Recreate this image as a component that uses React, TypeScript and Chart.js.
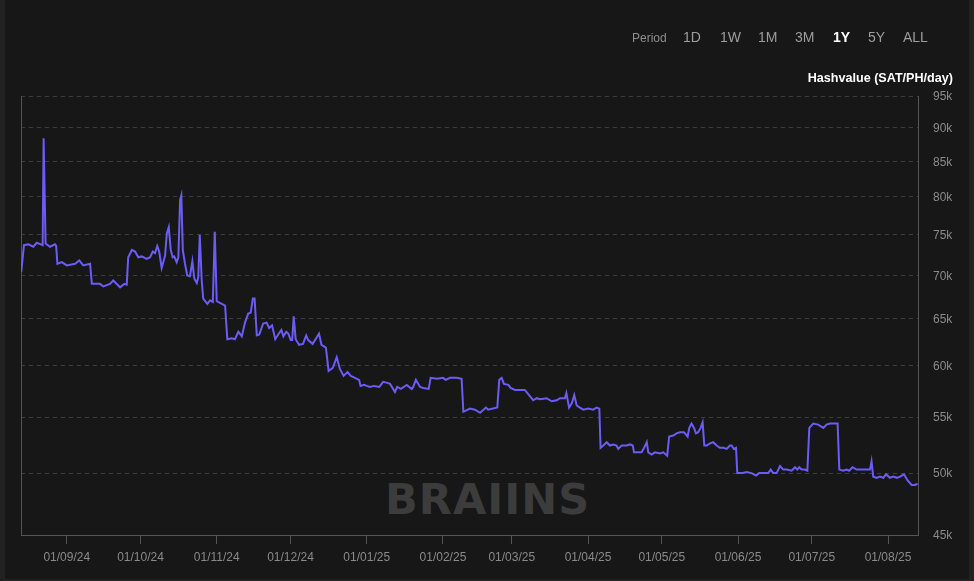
import React, { useEffect, useRef } from "react";
import { Chart, registerables } from "chart.js";

Chart.register(...registerables);

// Visible one-year window
const rangeStart = "2024-08-13T09:36:00Z";
const rangeEnd = "2025-08-13T04:48:00Z";

// Days since rangeStart
const dayOffsets = [
  0.1, 1.2, 3.0, 5.0, 6.4, 8.1, 8.8, 9.2, 10.0, 11.8,
  13.8, 14.3, 14.8, 16.6, 18.6, 22.0, 23.7, 25.3, 28.1, 28.8,
  32.1, 33.5, 36.2, 37.5, 40.3, 42.0, 43.0, 43.6, 45.1, 46.4,
  47.7, 49.1, 51.1, 52.5, 53.6, 54.5, 55.4, 56.2, 57.2, 58.6,
  59.3, 60.1, 60.9, 61.7, 62.3, 63.3, 64.0, 64.7, 65.2, 65.8,
  66.7, 67.6, 68.7, 69.7, 70.5, 71.5, 72.1, 72.7, 73.5, 74.1,
  75.8, 76.9, 78.0, 78.8, 79.6, 80.9, 83.0, 83.9, 85.7, 87.0,
  88.4, 89.8, 91.1, 92.4, 93.4, 94.3, 95.0, 95.9, 96.9, 98.5,
  99.9, 100.9, 102.1, 103.4, 104.6, 105.9, 106.7, 107.9, 108.7, 109.7,
  110.3, 110.9, 111.7, 113.1, 114.7, 116.0, 116.8, 118.6, 120.3, 121.2,
  122.2, 124.0, 125.1, 126.8, 128.4, 129.7, 131.2, 132.8, 134.1, 135.8,
  137.5, 138.1, 139.5, 140.6, 141.9, 143.6, 145.7, 147.3, 149.0, 150.1,
  152.1, 153.0, 154.5, 156.9, 158.9, 159.5, 160.6, 162.3, 163.6, 165.8,
  166.6, 169.1, 171.7, 172.7, 174.5, 177.2, 179.2, 179.9, 182.6, 184.6,
  186.7, 189.1, 190.0, 193.7, 194.5, 195.5, 196.4, 198.2, 199.1, 200.9,
  204.9, 208.3, 209.7, 211.1, 213.8, 215.8, 217.9, 219.2, 221.2, 221.8,
  222.9, 224.0, 225.0, 226.0, 227.3, 228.7, 230.7, 232.7, 234.1, 235.2,
  235.7, 236.8, 238.2, 239.5, 240.9, 242.2, 242.9, 244.3, 246.3, 247.7,
  248.8, 249.3, 252.4, 253.4, 254.5, 255.1, 256.5, 257.8, 259.9, 261.2,
  262.8, 263.6, 265.3, 266.6, 268.0, 269.6, 270.4, 271.1, 271.8, 272.7,
  273.7, 274.5, 275.4, 276.4, 277.2, 277.9, 278.9, 280.2, 281.5, 282.9,
  284.2, 285.6, 287.0, 288.3, 289.0, 289.9, 290.8, 291.3, 293.1, 295.1,
  297.1, 298.9, 300.2, 302.6, 303.9, 304.9, 305.9, 307.3, 308.7, 310.0,
  311.4, 313.4, 314.8, 315.7, 316.5, 317.5, 318.8, 319.8, 320.6, 322.2,
  324.2, 326.3, 327.6, 329.0, 332.1, 332.8, 334.4, 335.8, 336.8, 338.2,
  339.8, 341.2, 343.2, 345.3, 345.9, 346.6, 348.0, 349.3, 350.7, 351.8,
  353.4, 354.8, 356.2, 357.5, 359.1, 360.5, 362.2, 363.6, 364.6,
];

// Hashvalue in thousands of SAT/PH/day
const hashvalueK = [
  70.4, 73.7, 73.8, 73.5, 74.0, 73.8, 73.7, 88.4, 73.9, 73.5,
  73.8, 73.6, 71.4, 71.6, 71.2, 71.4, 71.8, 71.2, 71.4, 69.0,
  69.0, 68.7, 69.0, 69.4, 68.6, 69.0, 68.9, 72.2, 73.1, 72.9,
  72.2, 72.3, 72.0, 72.2, 72.9, 72.7, 73.6, 72.9, 70.9, 72.4,
  75.2, 76.0, 73.1, 72.2, 72.3, 71.6, 72.2, 79.6, 80.2, 73.1,
  71.4, 70.0, 69.9, 71.7, 69.6, 69.1, 69.8, 75.0, 69.4, 67.3,
  66.7, 67.1, 66.9, 75.4, 67.0, 66.8, 66.5, 62.8, 62.9, 62.8,
  63.6, 63.1, 64.6, 65.6, 65.7, 67.3, 67.3, 63.2, 63.3, 64.5,
  64.6, 64.0, 64.3, 62.8, 63.3, 63.8, 63.1, 63.6, 63.4, 62.7,
  62.7, 65.3, 62.8, 62.2, 62.3, 63.2, 62.7, 62.3, 63.0, 63.4,
  62.2, 61.9, 59.5, 59.8, 60.9, 59.7, 59.0, 59.4, 59.0, 58.8,
  58.6, 58.0, 58.1, 58.0, 57.9, 58.0, 57.9, 58.4, 58.3, 58.2,
  57.4, 57.9, 57.7, 58.1, 57.7, 57.9, 58.6, 57.9, 57.8, 57.7,
  58.8, 58.7, 58.8, 58.6, 58.8, 58.8, 58.7, 55.5, 55.8, 55.7,
  55.4, 55.9, 55.7, 55.9, 58.6, 58.8, 58.2, 58.1, 57.8, 57.6,
  57.6, 56.6, 56.8, 56.7, 56.8, 56.5, 56.6, 56.8, 56.8, 57.3,
  55.9, 56.3, 57.1, 56.1, 55.9, 55.7, 55.8, 55.7, 55.9, 55.8,
  52.2, 52.4, 52.7, 52.4, 52.5, 52.4, 52.1, 52.4, 52.4, 52.5,
  52.4, 51.8, 51.8, 52.2, 52.7, 51.8, 51.6, 51.8, 51.7, 51.8,
  51.5, 53.2, 53.3, 53.5, 53.6, 53.6, 53.4, 53.2, 54.0, 54.4,
  54.0, 53.5, 53.6, 54.0, 54.5, 52.4, 52.4, 52.6, 52.7, 52.4,
  52.2, 52.2, 52.1, 52.4, 52.4, 52.1, 52.2, 50.0, 50.0, 50.1,
  50.0, 49.8, 50.0, 50.0, 50.0, 50.3, 50.0, 50.0, 50.6, 50.3,
  50.3, 50.2, 50.5, 50.3, 50.5, 50.3, 50.3, 50.2, 54.0, 54.4,
  54.3, 54.0, 54.3, 54.4, 54.4, 50.3, 50.2, 50.3, 50.2, 50.5,
  50.3, 50.3, 50.3, 50.3, 51.0, 49.7, 49.6, 49.7, 49.6, 49.9,
  49.6, 49.7, 49.6, 49.7, 49.9, 49.4, 49.0, 49.0, 49.1,
];

const monthTickLabels = [
  "01/09/24", "01/10/24", "01/11/24", "01/12/24", "01/01/25", "01/02/25",
  "01/03/25", "01/04/25", "01/05/25", "01/06/25", "01/07/25", "01/08/25",
];

const yTickValuesK = [45, 50, 55, 60, 65, 70, 75, 80, 85, 90, 95];

const periodOptions = ["1D", "1W", "1M", "3M", "1Y", "5Y", "ALL"];
const activePeriod = "1Y";

const DAY_MS = 86400000;
const startMs = Date.parse(rangeStart);
const endMs = Date.parse(rangeEnd);

function labelToDay(label: string): number {
  const [dd, mm, yy] = label.split("/").map(Number);
  return (Date.UTC(2000 + yy, mm - 1, dd) - startMs) / DAY_MS;
}

const FONT = "'Liberation Sans', Arial, Helvetica, sans-serif";
const AXIS_COLOR = "#555555";
const GRID_COLOR = "#3d3d3d";
const TICK_TEXT = "#8a8a8a";
const LINE_COLOR = "#6b5cf6";

const leftFrame = {
  id: "leftFrame",
  beforeDatasetsDraw(chart: any) {
    const { ctx, chartArea } = chart;
    ctx.save();
    ctx.strokeStyle = AXIS_COLOR;
    ctx.lineWidth = 1;
    ctx.beginPath();
    ctx.moveTo(chartArea.left + 0.5, chartArea.top);
    ctx.lineTo(chartArea.left + 0.5, chartArea.bottom);
    ctx.stroke();
    ctx.restore();
  },
};

const periodLeft: Record<string, number> = {
  "1D": 683, "1W": 720, "1M": 758, "3M": 795, "1Y": 833, "5Y": 868, ALL: 903,
};

export default function App() {
  const canvasRef = useRef<HTMLCanvasElement | null>(null);

  useEffect(() => {
    if (!canvasRef.current) return;
    const points = dayOffsets.map((d, i) => ({ x: d, y: hashvalueK[i] }));
    const chart = new Chart(canvasRef.current, {
      type: "line",
      data: {
        datasets: [
          {
            label: "Hashvalue",
            data: points,
            borderColor: LINE_COLOR,
            borderWidth: 2,
            pointRadius: 0,
            tension: 0,
            fill: false,
          },
        ],
      },
      options: {
        animation: false,
        responsive: false,
        maintainAspectRatio: false,
        layout: { padding: { top: 96, left: 21, right: 0, bottom: 0 } },
        plugins: {
          legend: { display: false },
          tooltip: { enabled: false },
          title: { display: false },
        },
        scales: {
          x: {
            type: "linear",
            min: 0,
            max: (endMs - startMs) / DAY_MS,
            afterBuildTicks: (scale: any) => {
              scale.ticks = monthTickLabels.map((l) => ({ value: labelToDay(l) }));
            },
            afterFit: (scale: any) => {
              scale.height = 40;
            },
            ticks: {
              autoSkip: false,
              maxRotation: 0,
              minRotation: 0,
              padding: 6,
              color: TICK_TEXT,
              font: { family: FONT, size: 12 },
              callback: (_v: any, i: number) => monthTickLabels[i],
            },
            grid: {
              drawOnChartArea: false,
              drawTicks: true,
              tickLength: 9,
              color: AXIS_COLOR,
            },
            border: { display: true, color: AXIS_COLOR, width: 1 },
          },
          y: {
            type: "logarithmic",
            position: "right",
            min: 45,
            max: 95,
            afterBuildTicks: (scale: any) => {
              scale.ticks = yTickValuesK.map((v) => ({ value: v }));
            },
            afterFit: (scale: any) => {
              scale.width = 56;
            },
            ticks: {
              padding: 15,
              labelOffset: 1,
              color: TICK_TEXT,
              font: { family: FONT, size: 12 },
              callback: (v: any) => `${v}k`,
            },
            grid: {
              drawTicks: false,
              color: (ctx: any) =>
                ctx.tick && ctx.tick.value === 45 ? "rgba(0,0,0,0)" : GRID_COLOR,
            },
            border: { display: true, color: AXIS_COLOR, width: 1, dash: [4, 4] },
          },
        },
      },
      plugins: [leftFrame],
    } as any);
    return () => chart.destroy();
  }, []);

  const textBase: React.CSSProperties = {
    position: "absolute",
    fontFamily: FONT,
    whiteSpace: "nowrap",
    lineHeight: "16px",
  };

  return (
    <div
      style={{
        position: "fixed",
        left: 0,
        top: 0,
        width: 974,
        height: 581,
        background: "#222222",
        overflow: "hidden",
      }}
    >
      <div
        style={{
          position: "absolute",
          left: 5,
          top: 0,
          width: 964,
          height: 579,
          background: "#171717",
        }}
      />
      <div
        style={{
          position: "absolute",
          left: 385,
          top: 478,
          fontFamily: "'DejaVu Sans', " + FONT,
          fontWeight: 700,
          fontSize: 43,
          lineHeight: "43px",
          letterSpacing: "1px",
          color: "#3c3c3c",
          whiteSpace: "nowrap",
        }}
      >
        BRAIINS
      </div>
      <canvas
        ref={canvasRef}
        width={974}
        height={575}
        style={{ position: "absolute", left: 0, top: 0, width: 974, height: 575 }}
      />
      <div style={{ ...textBase, left: 632, top: 29.5, fontSize: 12, color: "#8e8e8e" }}>
        Period
      </div>
      {periodOptions.map((p) => (
        <div
          key={p}
          style={{
            ...textBase,
            left: periodLeft[p],
            top: 29,
            fontSize: 14,
            fontWeight: p === activePeriod ? 700 : 400,
            color: p === activePeriod ? "#ffffff" : "#9d9d9d",
          }}
        >
          {p}
        </div>
      ))}
      <div
        style={{
          ...textBase,
          right: 21,
          top: 70,
          fontSize: 12.6,
          fontWeight: 700,
          color: "#ffffff",
        }}
      >
        Hashvalue (SAT/PH/day)
      </div>
    </div>
  );
}
